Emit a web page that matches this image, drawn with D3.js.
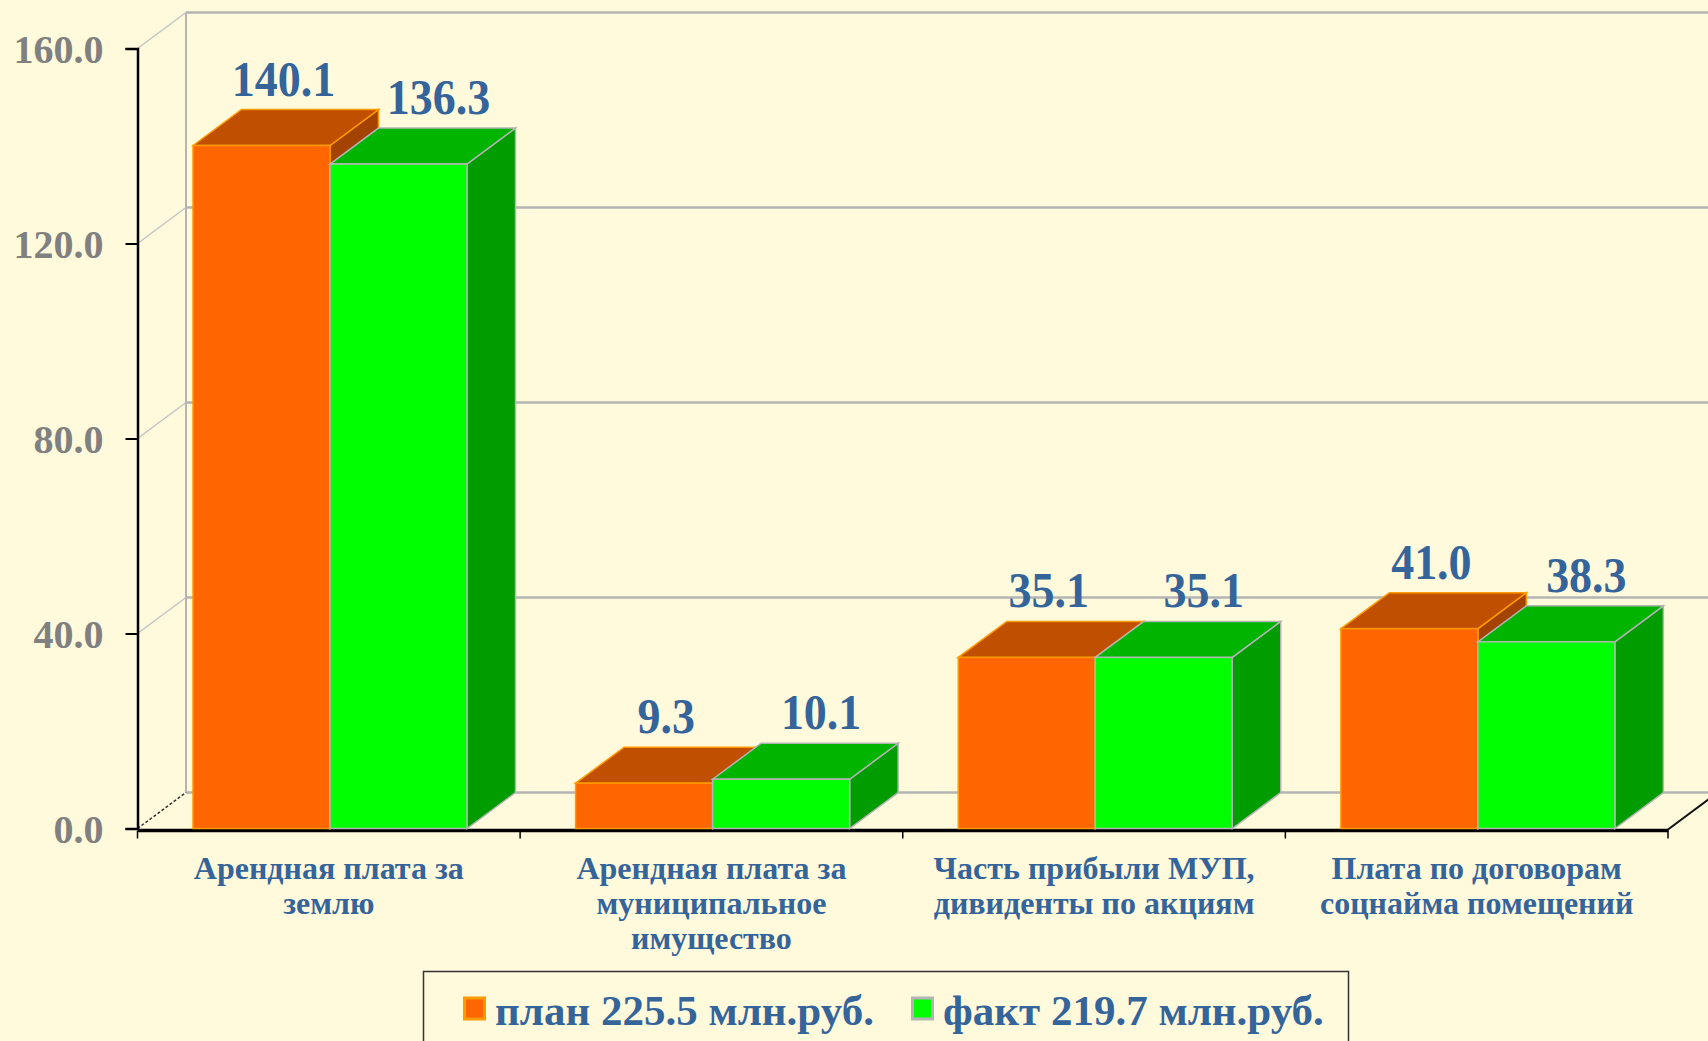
<html>
<head>
    <meta charset="UTF-8">
    <title>План и факт доходов</title>
    <script src="https://cdn.jsdelivr.net/npm/d3@7"></script>
    <style>
        body { margin: 0; background: #fffadc; }
        svg { display: block; }
        text { font-family: "Liberation Serif", "Times New Roman", serif; font-weight: bold; }
        .tick-label { fill: #808080; font-size: 40px; }
        .val { fill: #34649a; font-size: 50px; }
        .cat { fill: #34649a; font-size: 32px; }
        .legend-text { fill: #34649a; font-size: 43px; }
    </style>
</head>
<body>
    <svg width="1708" height="1041"></svg>
    <script>
        // categories as lines of text
        var categories = [
            ['Арендная плата за', 'землю'],
            ['Арендная плата за', 'муниципальное', 'имущество'],
            ['Часть прибыли МУП,', 'дивиденты по акциям'],
            ['Плата по договорам', 'соцнайма помещений']
        ];
        var seriesNames = ['план', 'факт'];
        var planValues = [140.1, 9.3, 35.1, 41.0];
        var factValues = [136.3, 10.1, 35.1, 38.3];
        var legendLabels = ['план 225.5 млн.руб.', 'факт 219.7 млн.руб.'];
        var yTicks = [0, 40, 80, 120, 160];

        var svg = d3.select('svg');
        var W = 1708, H = 1041;
        var left = 137.5, right = 1668, baseY = 828.5, topY = 48.5;
        var depth = { dx: 48.5, dy: -36 };

        var colors = {
            'план': { front: '#ff6600', top: '#c05000', side: '#a44300', stroke: '#ff9a00' },
            'факт': { front: '#00ff00', top: '#00b400', side: '#009c00', stroke: '#b4b4b4' }
        };

        svg.append('rect').attr('width', W).attr('height', H).attr('fill', '#fffadc');

        var y = d3.scaleLinear().domain([0, 160]).range([baseY, topY]);
        var x = d3.scaleBand().domain(d3.range(categories.length)).range([left, right]);
        var xs = d3.scaleBand().domain(seriesNames).range([55.5, 329.5]);

        // back wall and side wall grid
        var grid = svg.append('g');
        grid.selectAll('line.back')
            .data(yTicks).enter().append('line')
            .attr('x1', left + depth.dx).attr('x2', W + 10)
            .attr('y1', d => y(d) + depth.dy).attr('y2', d => y(d) + depth.dy)
            .attr('stroke', '#b4b4b4').attr('stroke-width', 2.5);
        grid.selectAll('line.side')
            .data(yTicks.filter(d => d > 0)).enter().append('line')
            .attr('x1', left).attr('y1', d => y(d))
            .attr('x2', left + depth.dx).attr('y2', d => y(d) + depth.dy)
            .attr('stroke', '#c4c4c4').attr('stroke-width', 1.5);
        grid.append('line')
            .attr('x1', left + depth.dx).attr('x2', left + depth.dx)
            .attr('y1', y(160) + depth.dy).attr('y2', y(0) + depth.dy)
            .attr('stroke', '#b4b4b4').attr('stroke-width', 2);
        // floor edges
        grid.append('line')
            .attr('x1', left).attr('y1', y(0))
            .attr('x2', left + depth.dx).attr('y2', y(0) + depth.dy)
            .attr('stroke', '#333').attr('stroke-width', 1.5).attr('stroke-dasharray', '3,2');
        grid.append('line')
            .attr('x1', right).attr('y1', y(0) + 1)
            .attr('x2', right + depth.dx).attr('y2', y(0) + 1 + depth.dy)
            .attr('stroke', '#111').attr('stroke-width', 2);

        // x axis
        svg.append('g')
            .attr('transform', 'translate(0,' + (baseY + 1.5) + ')')
            .call(d3.axisBottom(x).tickSize(0).tickFormat(''))
            .call(g => g.select('.domain').attr('stroke', '#000').attr('stroke-width', 3.5));
        svg.append('g').selectAll('line')
            .data(d3.range(categories.length + 1)).enter().append('line')
            .attr('x1', d => left + d * x.step()).attr('x2', d => left + d * x.step())
            .attr('y1', baseY + 2).attr('y2', baseY + 10)
            .attr('stroke', '#000').attr('stroke-width', 1.5);

        // y axis
        var yAxis = svg.append('g')
            .attr('transform', 'translate(' + left + ',0)')
            .call(d3.axisLeft(y).tickValues(yTicks).tickSize(12).tickPadding(22).tickFormat(d3.format('.1f')));
        yAxis.select('.domain').attr('stroke', '#000').attr('stroke-width', 2.5);
        yAxis.selectAll('.tick line').attr('stroke', '#000').attr('stroke-width', 2);
        yAxis.selectAll('.tick text').attr('class', 'tick-label').attr('dy', '0.34em');

        // bars
        var rows = [];
        categories.forEach(function(c, i) {
            rows.push({ cat: i, s: 'план', v: planValues[i] });
            rows.push({ cat: i, s: 'факт', v: factValues[i] });
        });

        var bars = svg.append('g');
        rows.forEach(function(d) {
            var x0 = x(d.cat) + xs(d.s), w = xs.bandwidth();
            var y0 = y(d.v), yb = y(0);
            var c = colors[d.s];
            var g = bars.append('g');
            g.append('path')
                .attr('d', 'M' + (x0 + w) + ',' + y0 + 'L' + (x0 + w + depth.dx) + ',' + (y0 + depth.dy) +
                    'L' + (x0 + w + depth.dx) + ',' + (yb + depth.dy) + 'L' + (x0 + w) + ',' + yb + 'Z')
                .attr('fill', c.side).attr('stroke', c.stroke).attr('stroke-width', 1.5);
            g.append('path')
                .attr('d', 'M' + x0 + ',' + y0 + 'L' + (x0 + depth.dx) + ',' + (y0 + depth.dy) +
                    'L' + (x0 + w + depth.dx) + ',' + (y0 + depth.dy) + 'L' + (x0 + w) + ',' + y0 + 'Z')
                .attr('fill', c.top).attr('stroke', c.stroke).attr('stroke-width', 1.5);
            g.append('rect')
                .attr('x', x0).attr('y', y0).attr('width', w).attr('height', yb - y0)
                .attr('fill', c.front).attr('stroke', c.stroke).attr('stroke-width', 1.5);
        });

        // value labels (slightly condensed like the original)
        svg.append('g').selectAll('text')
            .data(rows).enter().append('text')
            .attr('class', 'val')
            .attr('text-anchor', 'middle')
            .attr('transform', d => 'translate(' +
                (x(d.cat) + xs(d.s) + xs.bandwidth() / 2 + (d.s === 'план' ? 22 : 40)) + ',' +
                (y(d.v) + depth.dy - 14) + ') scale(0.92,1)')
            .text(d => d3.format('.1f')(d.v));

        // category labels
        var cats = svg.append('g').selectAll('text')
            .data(categories).enter().append('text')
            .attr('class', 'cat')
            .attr('text-anchor', 'middle')
            .attr('transform', (d, i) => 'translate(' + (x(i) + x.bandwidth() / 2) + ',' + 879 + ')');
        cats.selectAll('tspan')
            .data(d => d).enter().append('tspan')
            .attr('x', 0).attr('y', (d, i) => i * 35)
            .text(d => d);

        // legend
        var legend = svg.append('g');
        legend.append('rect')
            .attr('x', 423.5).attr('y', 971.5).attr('width', 925).attr('height', 100)
            .attr('fill', '#fffadc').attr('stroke', '#333').attr('stroke-width', 1.5);
        var legendX = [463, 911];
        seriesNames.forEach(function(s, i) {
            legend.append('rect')
                .attr('x', legendX[i] + 1.5).attr('y', 998).attr('width', 20).attr('height', 21)
                .attr('fill', colors[s].front).attr('stroke', colors[s].stroke).attr('stroke-width', 3);
            legend.append('text')
                .attr('class', 'legend-text')
                .attr('x', legendX[i] + 32).attr('y', 1025)
                .text(legendLabels[i]);
        });
    </script>
</body>
</html>
